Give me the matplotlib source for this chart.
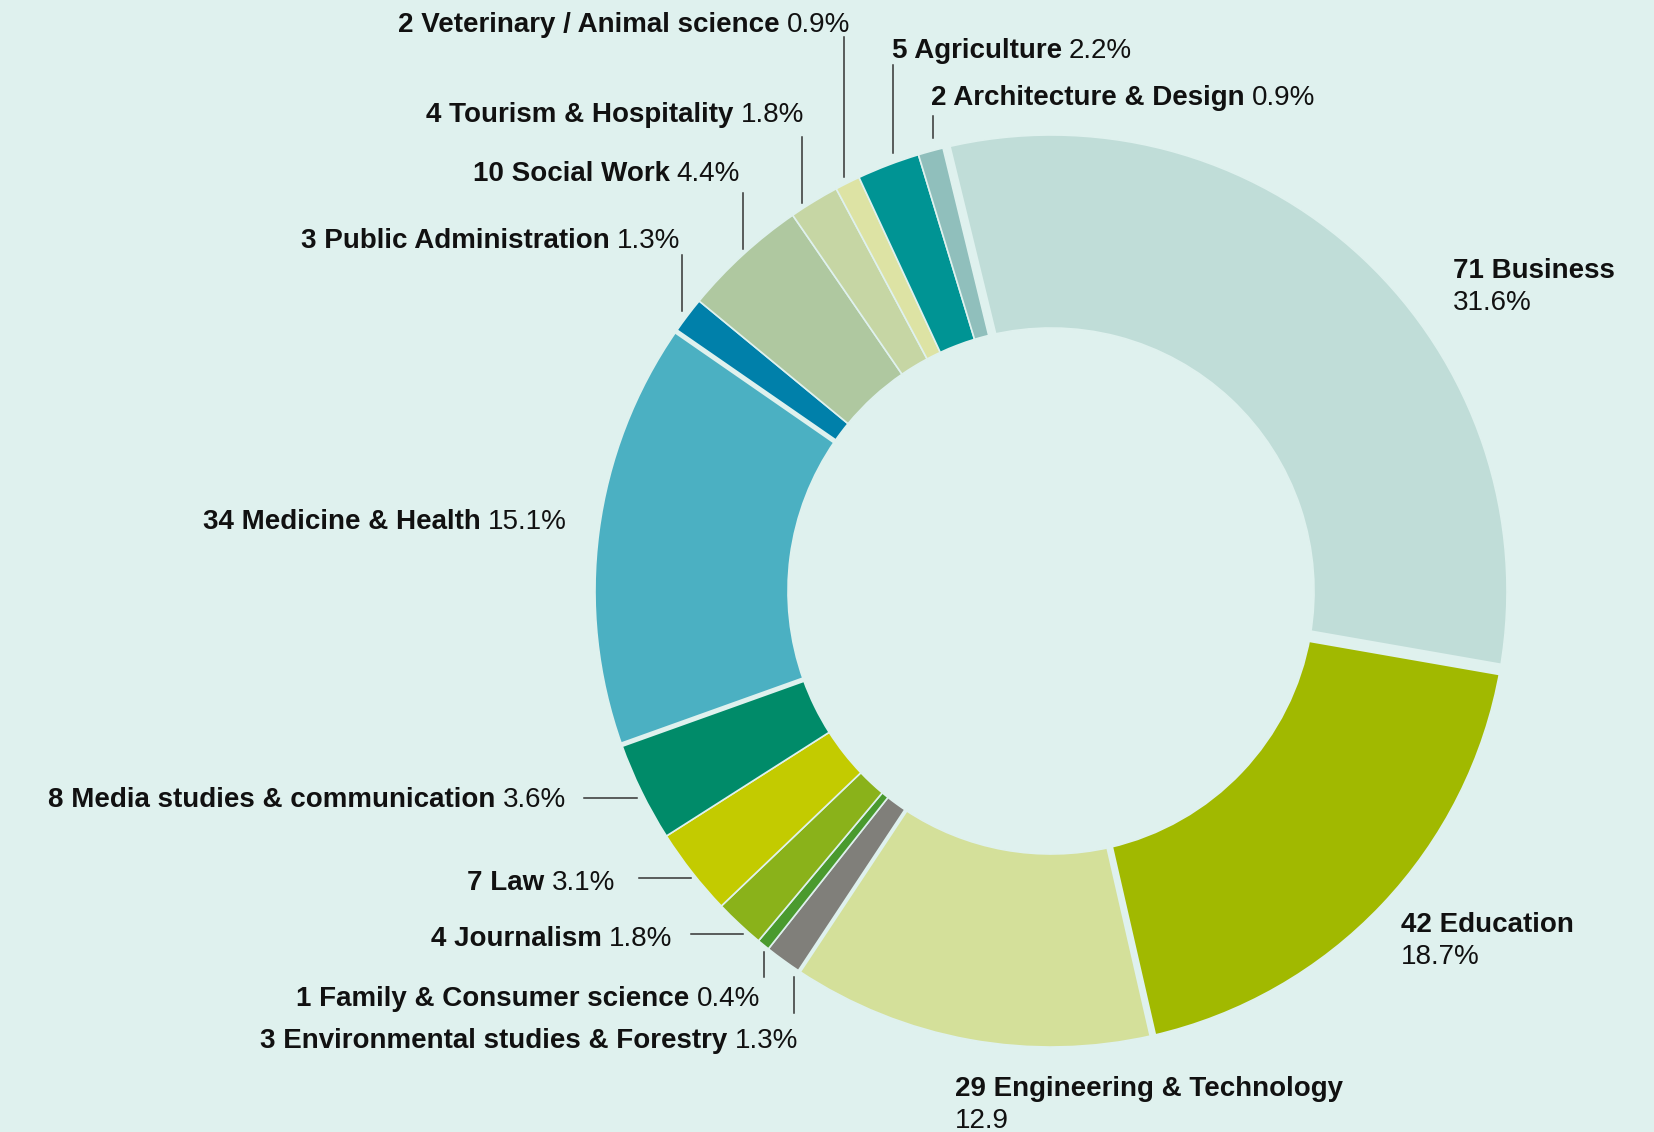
import numpy as np
import matplotlib.pyplot as plt

# Fields of study, clockwise from the top
categories = ["Business", "Education", "Engineering & Technology",
              "Environmental studies & Forestry", "Family & Consumer science",
              "Journalism", "Law", "Media studies & communication",
              "Medicine & Health", "Public Administration", "Social Work",
              "Tourism & Hospitality", "Veterinary / Animal science",
              "Agriculture", "Architecture & Design"]
counts = [71, 42, 29, 3, 1, 4, 7, 8, 34, 3, 10, 4, 2, 5, 2]
shares = ["31.6%", "18.7%", "12.9", "1.3%", "0.4%", "1.8%", "3.1%", "3.6%",
          "15.1%", "1.3%", "4.4%", "1.8%", "0.9%", "2.2%", "0.9%"]
colors = ["#c0ddd8", "#a1b900", "#d4e09a", "#807f7a", "#4a9a2e", "#8ab21a",
          "#c3cb00", "#008b69", "#4bb0c2", "#0080aa", "#afc8a0", "#c6d6a4",
          "#dde3a4", "#009494", "#90bfbc"]

W, H = 1654, 1132
BG = "#dff1ee"
INK = "#111111"
FONT = "Liberation Sans"
FS = 20
CX, CY = 1051, 591
R_OUT, RING = 456, 193
START = 103.7


def py(y):
    # picture rows run downwards, the axes upwards
    return H - y


fig = plt.figure(figsize=(W / 100, H / 100), dpi=100, facecolor=BG)
ax = fig.add_axes([0, 0, 1, 1])
ax.set_facecolor(BG)

ax.pie(counts, colors=colors, startangle=START, counterclock=False,
       radius=R_OUT, center=(CX, py(CY)),
       wedgeprops=dict(width=RING, edgecolor=BG, linewidth=1.2))
ax.set_xlim(0, W)
ax.set_ylim(0, H)
ax.set_aspect("equal")
ax.axis("off")

# wider gaps around the big slices: (width px, shift px clockwise), keyed by the slice after the gap
wide_gaps = {"Business": (8, 4), "Education": (12, 0),
             "Engineering & Technology": (7, 0),
             "Environmental studies & Forestry": (4, 0),
             "Medicine & Health": (5, 0), "Public Administration": (5, 0)}
cum = np.concatenate([[0], np.cumsum(counts)[:-1]]) / sum(counts)
for cat, c in zip(categories, cum):
    if cat not in wide_gaps:
        continue
    gw, shift = wide_gaps[cat]
    th = np.radians(START - 360 * c)
    r = np.array([R_OUT - RING - 4, R_OUT + 4])
    xs = CX + r * np.cos(th) + shift * np.sin(th)
    ys = py(CY) + r * np.sin(th) - shift * np.cos(th)
    ax.plot(xs, ys, color=BG, lw=gw * 0.72, solid_capstyle="butt", zorder=3)

renderer = fig.canvas.get_renderer()

# label placement: x, y, alignment, two-line?
layout = {
    "Veterinary / Animal science": (850, 22, "right", False),
    "Agriculture": (892, 48, "left", False),
    "Architecture & Design": (931, 95, "left", False),
    "Tourism & Hospitality": (804, 112, "right", False),
    "Social Work": (740, 171, "right", False),
    "Public Administration": (680, 238, "right", False),
    "Business": (1453, 268, "left", True),
    "Medicine & Health": (567, 519, "right", False),
    "Media studies & communication": (566, 797, "right", False),
    "Law": (615, 880, "right", False),
    "Journalism": (672, 936, "right", False),
    "Family & Consumer science": (760, 996, "right", False),
    "Environmental studies & Forestry": (798, 1038, "right", False),
    "Education": (1401, 922, "left", True),
    "Engineering & Technology": (955, 1086, "left", True),
}

leaders = [
    ((844, 37), (844, 177)),
    ((893, 65), (893, 153)),
    ((933, 116), (933, 138)),
    ((802, 137), (802, 203)),
    ((743, 193), (743, 249)),
    ((682, 255), (682, 311)),
    ((584, 798), (637, 798)),
    ((639, 878), (691, 878)),
    ((691, 934), (743, 934)),
    ((764, 952), (764, 977)),
    ((794, 977), (794, 1013)),
]

txt = dict(fontsize=FS, color=INK, family=FONT, va="center_baseline")
gap = 7

for cat, n, share in zip(categories, counts, shares):
    x, y, ha, stacked = layout[cat]
    name = f"{n} {cat}"
    if stacked:
        ax.text(x, py(y), name, ha="left", fontweight="bold", **txt)
        ax.text(x, py(y + 32), share, ha="left", **txt)
    elif ha == "right":
        t = ax.text(x, py(y), share, ha="right", **txt)
        w = t.get_window_extent(renderer).width
        ax.text(x - w - gap, py(y), name, ha="right", fontweight="bold", **txt)
    else:
        t = ax.text(x, py(y), name, ha="left", fontweight="bold", **txt)
        w = t.get_window_extent(renderer).width
        ax.text(x + w + gap, py(y), share, ha="left", **txt)

for (x0, y0), (x1, y1) in leaders:
    ax.plot([x0, x1], [py(y0), py(y1)], color="#333333", lw=1.1)

fig.savefig("out.png", dpi=100, facecolor=BG)
